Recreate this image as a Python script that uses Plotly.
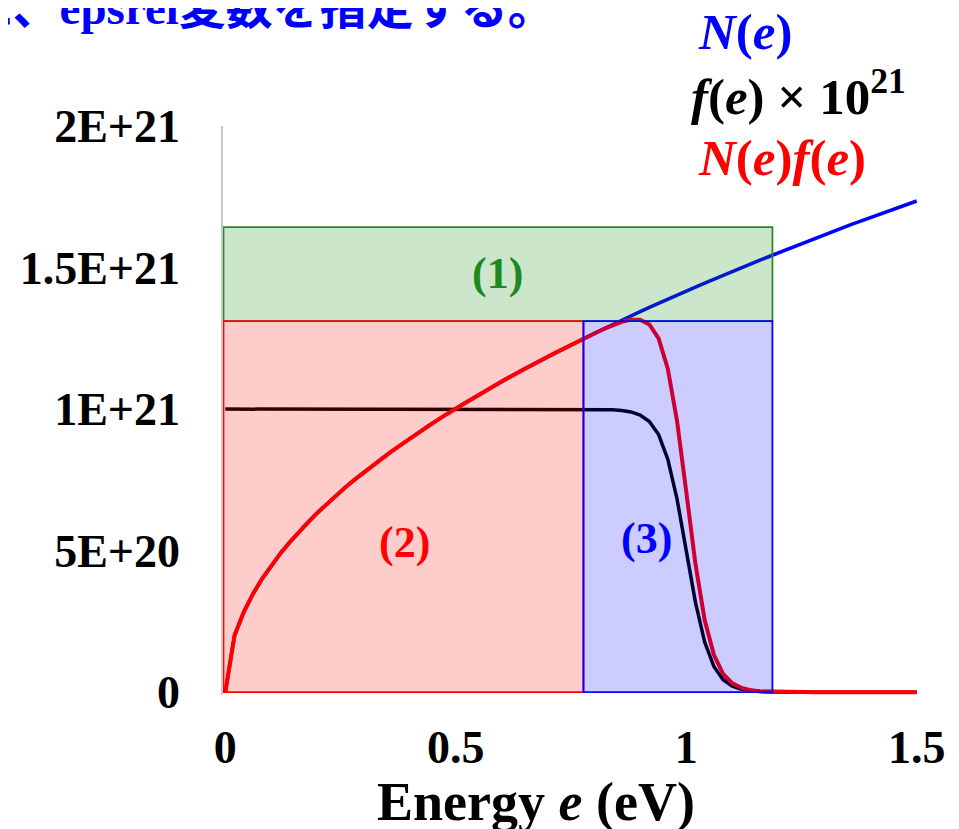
import plotly.graph_objects as go

# ---------------- data (y values in units of 1E+21) ----------------
energy = [0.00, 0.02, 0.04, 0.06, 0.08, 0.10, 0.12, 0.14, 0.16, 0.18,
          0.20, 0.22, 0.24, 0.26, 0.28, 0.30, 0.32, 0.34, 0.36, 0.38,
          0.40, 0.42, 0.44, 0.46, 0.48, 0.50, 0.52, 0.54, 0.56, 0.58,
          0.60, 0.62, 0.64, 0.66, 0.68, 0.70, 0.72, 0.74, 0.76, 0.78,
          0.80, 0.82, 0.84, 0.86, 0.88, 0.90, 0.92, 0.94, 0.96, 0.98,
          1.00, 1.02, 1.04, 1.06, 1.08, 1.10, 1.12, 1.14, 1.16, 1.18,
          1.20, 1.22, 1.24, 1.26, 1.28, 1.30, 1.32, 1.34, 1.36, 1.38,
          1.40, 1.42, 1.44, 1.46, 1.48, 1.50]

N_e = [0.000, 0.200, 0.283, 0.347, 0.401, 0.448, 0.491, 0.530, 0.567, 0.601,
       0.634, 0.665, 0.694, 0.723, 0.750, 0.776, 0.802, 0.826, 0.850, 0.873,
       0.896, 0.918, 0.940, 0.961, 0.982, 1.002, 1.022, 1.041, 1.060, 1.079,
       1.098, 1.116, 1.134, 1.151, 1.168, 1.186, 1.202, 1.219, 1.235, 1.251,
       1.267, 1.283, 1.299, 1.314, 1.329, 1.344, 1.359, 1.374, 1.388, 1.403,
       1.417, 1.431, 1.445, 1.459, 1.473, 1.486, 1.500, 1.513, 1.526, 1.539,
       1.552, 1.565, 1.578, 1.591, 1.603, 1.616, 1.628, 1.640, 1.653, 1.665,
       1.677, 1.689, 1.700, 1.712, 1.724, 1.735]

f_e_x1e21 = [1.000, 1.000, 1.000, 1.000, 1.000, 1.000, 1.000, 1.000, 1.000, 1.000,
             1.000, 1.000, 1.000, 1.000, 1.000, 1.000, 1.000, 1.000, 1.000, 1.000,
             1.000, 1.000, 1.000, 1.000, 1.000, 1.000, 1.000, 1.000, 1.000, 1.000,
             1.000, 1.000, 1.000, 1.000, 1.000, 1.000, 1.000, 1.000, 1.000, 1.000,
             0.999, 0.999, 0.998, 0.995, 0.990, 0.979, 0.956, 0.910, 0.823, 0.683,
             0.500, 0.317, 0.177, 0.091, 0.044, 0.021, 0.010, 0.005, 0.002, 0.001,
             0.001, 0.000, 0.000, 0.000, 0.000, 0.000, 0.000, 0.000, 0.000, 0.000,
             0.000, 0.000, 0.000, 0.000, 0.000, 0.000]

Nf_e = [0.000, 0.200, 0.283, 0.347, 0.401, 0.448, 0.491, 0.530, 0.567, 0.601,
        0.634, 0.665, 0.694, 0.723, 0.750, 0.776, 0.802, 0.826, 0.850, 0.873,
        0.896, 0.918, 0.940, 0.961, 0.982, 1.002, 1.022, 1.041, 1.060, 1.079,
        1.098, 1.116, 1.134, 1.151, 1.168, 1.186, 1.202, 1.219, 1.235, 1.251,
        1.266, 1.282, 1.296, 1.308, 1.316, 1.316, 1.299, 1.250, 1.143, 0.959,
        0.709, 0.453, 0.255, 0.132, 0.065, 0.031, 0.015, 0.007, 0.003, 0.002,
        0.001, 0.000, 0.000, 0.000, 0.000, 0.000, 0.000, 0.000, 0.000, 0.000,
        0.000, 0.000, 0.000, 0.000, 0.000, 0.000]

x_tickvals = [0, 0.5, 1, 1.5]
x_ticktext = ["0", "0.5", "1", "1.5"]
y_tickvals = [0, 0.5, 1, 1.5, 2]
y_ticktext = ["0", "5E+20", "1E+21", "1.5E+21", "2E+21"]

# integration regions (1), (2), (3)
region_labels = ["(1)", "(2)", "(3)"]
region_x0 = [-0.004, -0.004, 0.777]
region_x1 = [1.187, 0.777, 1.187]
region_y0 = [1.311, 0.0, 0.0]
region_y1 = [1.643, 1.311, 1.311]
label_x = [0.59, 0.388, 0.913]
label_y = [1.48, 0.527, 0.544]

# ---------------- styling ----------------
SERIF = "Times New Roman, Liberation Serif, Noto Sans CJK JP, serif"
region_line = ["#2a8a2a", "#ff0000", "#0000ff"]
region_fill = ["rgba(0,128,0,0.2)", "rgba(255,0,0,0.2)", "rgba(0,0,255,0.2)"]
region_text = ["#1e8a1e", "#ff0000", "#0000ff"]

fig = go.Figure()
fig.add_trace(go.Scatter(x=energy, y=N_e, mode="lines",
                         line=dict(color="#0000ff", width=3.5), showlegend=False))
fig.add_trace(go.Scatter(x=energy, y=f_e_x1e21, mode="lines",
                         line=dict(color="#000000", width=3.5), showlegend=False))
fig.add_trace(go.Scatter(x=energy, y=Nf_e, mode="lines",
                         line=dict(color="#ff0000", width=4), showlegend=False))

for i in range(3):
    fig.add_shape(type="rect", xref="x", yref="y",
                  x0=region_x0[i], x1=region_x1[i], y0=region_y0[i], y1=region_y1[i],
                  line=dict(color=region_line[i], width=1.8),
                  fillcolor=region_fill[i], layer="above")
    fig.add_annotation(x=label_x[i], y=label_y[i], xref="x", yref="y",
                       text="<b>" + region_labels[i] + "</b>", showarrow=False,
                       font=dict(family=SERIF, size=44, color=region_text[i]))

# legend-like labels
fig.add_annotation(x=0.679, y=1.166, xref="paper", yref="paper", xanchor="left", yanchor="middle",
                   text="<b><i>N</i>(<i>e</i>)</b>", showarrow=False,
                   font=dict(family=SERIF, size=51, color="#0000ff"))
fig.add_annotation(x=0.669, y=1.058, xref="paper", yref="paper", xanchor="left", yanchor="middle",
                   text="<b><i>f</i>(<i>e</i>) × 10<sup>21</sup></b>", showarrow=False,
                   font=dict(family=SERIF, size=51, color="#000000"))
fig.add_annotation(x=0.679, y=0.944, xref="paper", yref="paper", xanchor="left", yanchor="middle",
                   text="<b><i>N</i>(<i>e</i>)<i>f</i>(<i>e</i>)</b>", showarrow=False,
                   font=dict(family=SERIF, size=51, color="#ff0000"))

# cut-off heading text at the top
fig.add_annotation(x=-0.370, y=1.158, xref="paper", yref="paper", xanchor="left", yanchor="bottom",
                   text="<b>に、epsrel変数を指定する。</b>", showarrow=False,
                   font=dict(family=SERIF, size=47, color="#0000ff"))

# x-axis title
fig.add_annotation(x=0.4497, y=-0.188, xref="paper", yref="paper", xanchor="center", yanchor="middle",
                   text="<b>Energy <i>e</i> (eV)</b>", showarrow=False,
                   font=dict(family=SERIF, size=54, color="#000000"))

fig.update_layout(
    width=951, height=821,
    margin=dict(l=215, r=40, t=118, b=134),
    paper_bgcolor="white", plot_bgcolor="white",
    showlegend=False,
    xaxis=dict(range=[-0.005, 1.505], tickvals=x_tickvals, ticktext=x_ticktext,
               showgrid=False, zeroline=False, showline=False, ticks="",
               ticklabelstandoff=21,
               tickfont=dict(family=SERIF, size=46, color="black", weight="bold")),
    yaxis=dict(range=[-0.01, 2.0], tickvals=y_tickvals, ticktext=y_ticktext,
               showgrid=False, zeroline=False, showline=True, linecolor="#c8c8c8",
               linewidth=1.5, ticks="", ticklabelstandoff=32,
               tickfont=dict(family=SERIF, size=46, color="black", weight="bold")),
)

fig.write_html("out.html")
